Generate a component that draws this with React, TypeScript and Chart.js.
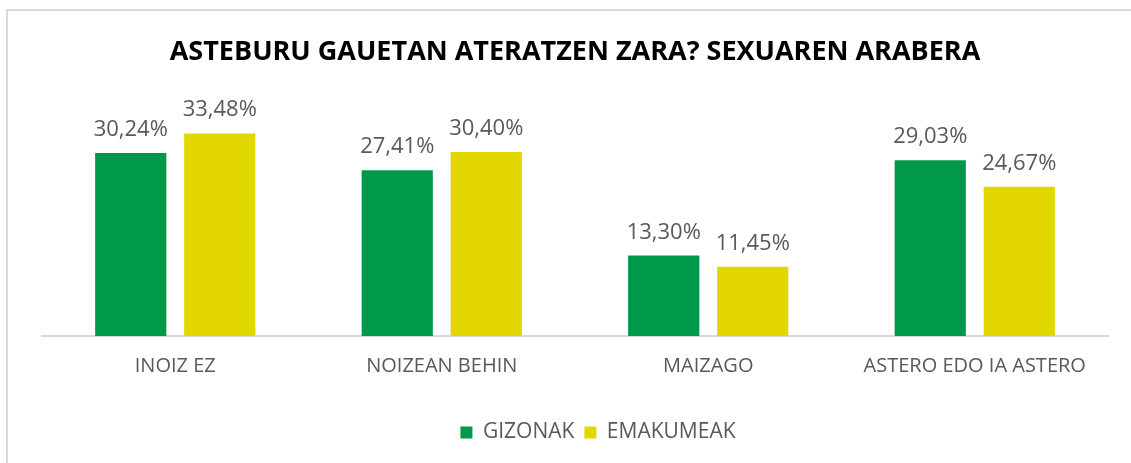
import React, { useEffect, useRef } from "react";
import { Chart, registerables } from "chart.js";

Chart.register(...registerables);

const categories = ["INOIZ EZ", "NOIZEAN BEHIN", "MAIZAGO", "ASTERO EDO IA ASTERO"];
const gizonak = [30.24, 27.41, 13.3, 29.03];
const emakumeak = [33.48, 30.4, 11.45, 24.67];
const seriesNames = ["GIZONAK", "EMAKUMEAK"];
const titleText = "ASTEBURU GAUETAN ATERATZEN ZARA? SEXUAREN ARABERA";

const GREEN = "#00994a";
const YELLOW = "#e3d700";
const GRAY_TEXT = "#595959";
const FONT = "'Open Sans', sans-serif";

const valueLabels = {
  id: "valueLabels",
  afterDatasetsDraw(chart: any) {
    const { ctx } = chart;
    ctx.save();
    ctx.font = `22px ${FONT}`;
    ctx.fillStyle = GRAY_TEXT;
    ctx.textAlign = "center";
    ctx.textBaseline = "alphabetic";
    chart.data.datasets.forEach((ds: any, i: number) => {
      const meta = chart.getDatasetMeta(i);
      meta.data.forEach((bar: any, j: number) => {
        const v = ds.data[j] as number;
        ctx.fillText(v.toFixed(2).replace(".", ",") + "%", bar.x, bar.y - 17);
      });
    });
    ctx.restore();
  },
};

export default function App() {
  const ref = useRef<HTMLCanvasElement>(null);

  useEffect(() => {
    if (!ref.current) return;
    const chart = new Chart(ref.current, {
      type: "bar",
      data: {
        labels: categories,
        datasets: [
          {
            label: seriesNames[0],
            data: gizonak,
            backgroundColor: GREEN,
            borderWidth: 0,
            categoryPercentage: 0.668,
            barPercentage: 0.8,
          },
          {
            label: seriesNames[1],
            data: emakumeak,
            backgroundColor: YELLOW,
            borderWidth: 0,
            categoryPercentage: 0.668,
            barPercentage: 0.8,
          },
        ],
      },
      options: {
        animation: false,
        responsive: false,
        layout: { padding: { left: 42, right: 6, top: 0, bottom: 10 } },
        plugins: {
          title: {
            display: true,
            text: titleText,
            fullSize: false,
            color: "#000000",
            font: { family: FONT, size: 27, weight: "bold" },
            padding: { top: 36, bottom: 25.6 },
          },
          legend: {
            display: true,
            position: "bottom",
            labels: {
              boxWidth: 12,
              boxHeight: 12,
              padding: 10,
              color: GRAY_TEXT,
              font: { family: FONT, size: 21 },
            },
          },
          tooltip: { enabled: false },
        },
        scales: {
          x: {
            grid: { display: false, drawTicks: false },
            border: { display: true, color: "#d9d9d9", width: 2 },
            ticks: {
              color: GRAY_TEXT,
              font: { family: FONT, size: 20 },
              padding: 18,
              maxRotation: 0,
            },
            afterFit: (s: any) => {
              s.height = 76;
            },
          },
          y: {
            position: "right",
            min: 0,
            max: 40,
            grid: { display: false, drawTicks: false },
            border: { display: false },
            ticks: { display: false },
            afterFit: (s: any) => {
              s.width = 46;
            },
          },
        },
      },
      plugins: [valueLabels],
    });
    return () => chart.destroy();
  }, []);

  return (
    <div style={{ position: "fixed", inset: 0, overflow: "hidden", background: "#ffffff" }}>
      <div
        style={{
          position: "absolute",
          left: 6,
          top: 9,
          width: 1180,
          height: 500,
          border: "2px solid #d9d9d9",
          boxSizing: "border-box",
        }}
      />
      <canvas
        ref={ref}
        width={1160}
        height={463}
        style={{ position: "absolute", left: 0, top: 0, width: 1160, height: 463 }}
      />
    </div>
  );
}
